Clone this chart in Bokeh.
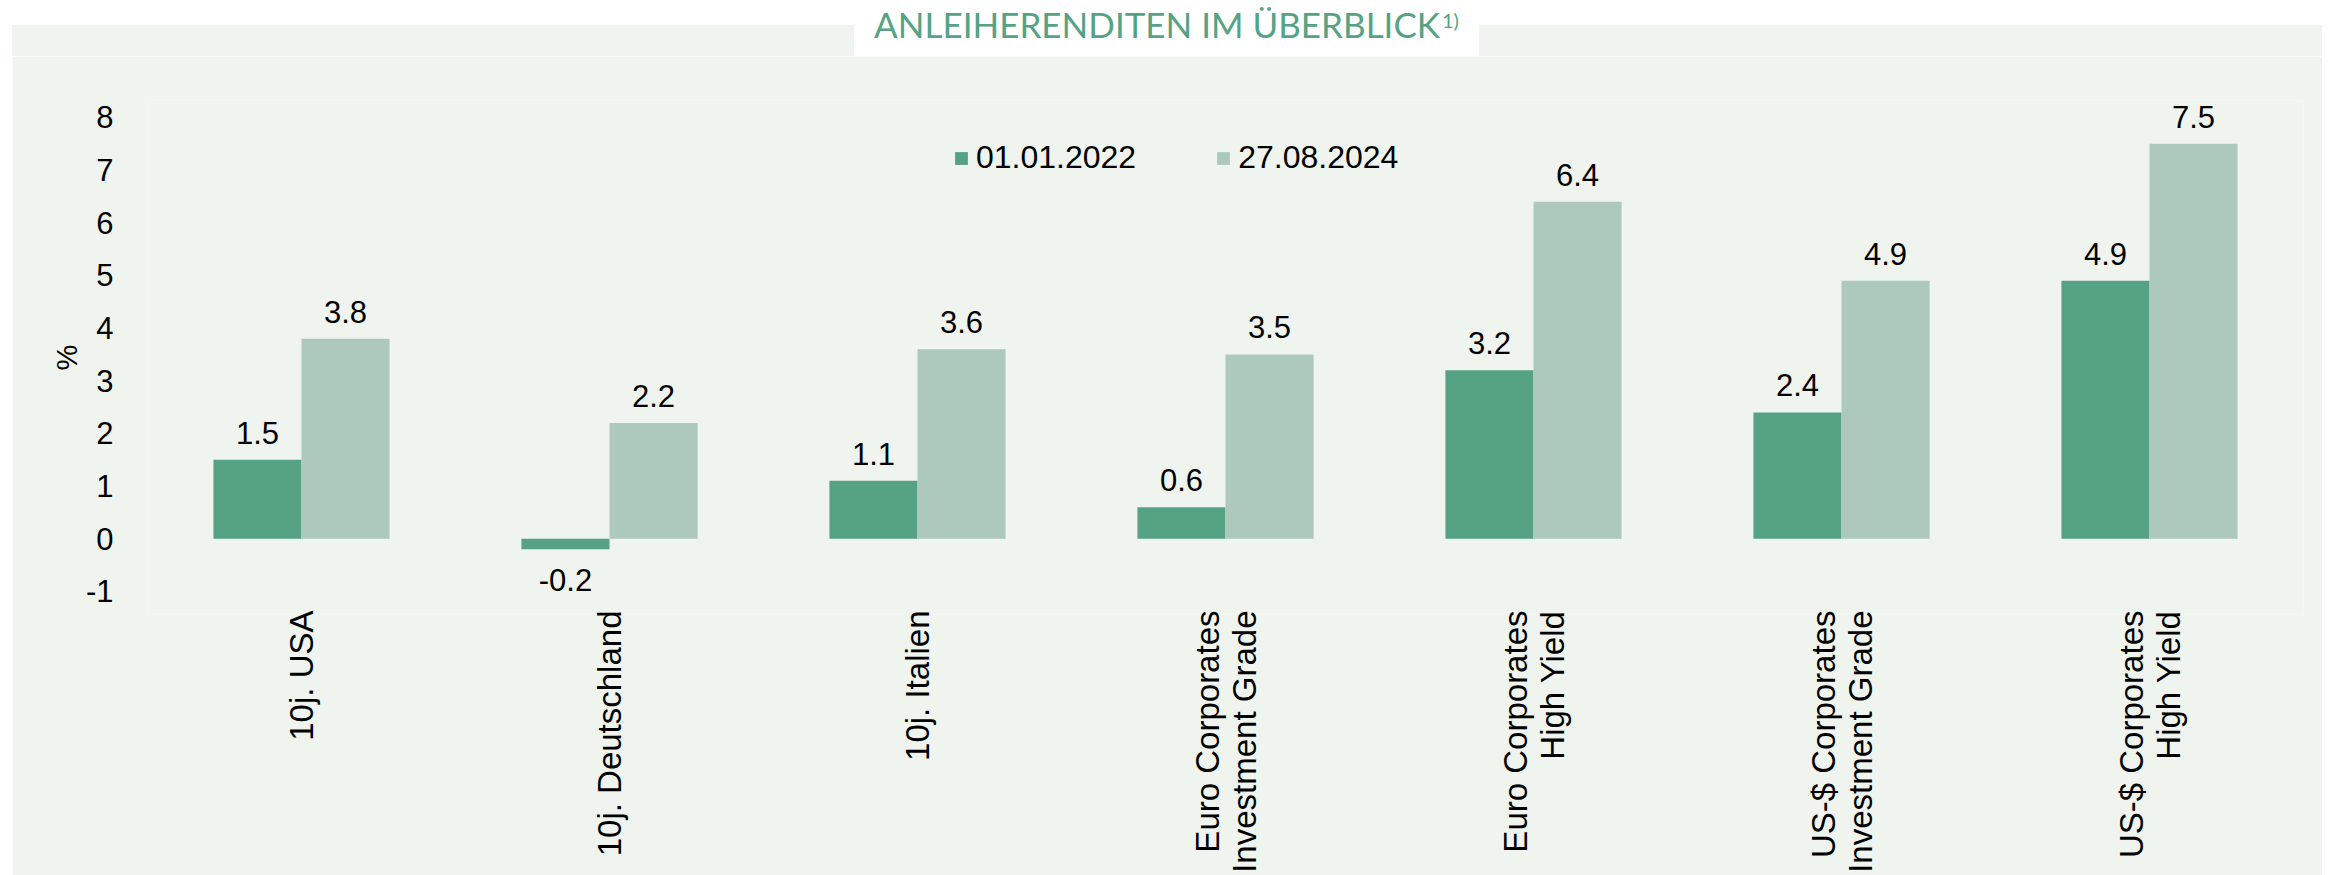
import math
from bokeh.plotting import figure
from bokeh.layouts import column
from bokeh.models import (FactorRange, Range1d, ColumnDataSource, Legend, LegendItem,
                          LabelSet, FixedTicker, Div)
from bokeh.transform import dodge
from bokeh.core.properties import value
from bokeh.embed import file_html
from bokeh.resources import INLINE

# ---- data ----
categories = ["10j. USA", "10j. Deutschland", "10j. Italien",
              "Euro Corporates\nInvestment Grade", "Euro Corporates\nHigh Yield",
              "US-$ Corporates\nInvestment Grade", "US-$ Corporates\nHigh Yield"]
series_names = ["01.01.2022", "27.08.2024"]
yield_2022 = [1.5, -0.2, 1.1, 0.6, 3.2, 2.4, 4.9]
yield_2024 = [3.8, 2.2, 3.6, 3.5, 6.4, 4.9, 7.5]
y_ticks = [-1, 0, 1, 2, 3, 4, 5, 6, 7, 8]
title_text = "ANLEIHERENDITEN IM ÜBERBLICK"
title_note = "1)"
y_label = "%"

# ---- style ----
DARK = "#55a383"
LIGHT = "#adc9bc"
PANEL = "#eff4ee"
FONT = "Liberation Sans"

# figure geometry (pixels)
W, H = 2310, 819
ML, MR, MT, MB = 135, 19, 44, 261
UNIT = 52.67            # px per y unit
ZERO_FROM_TOP = 438.3   # px from frame top to y=0
FH = H - MT - MB
y_top = ZERO_FROM_TOP / UNIT
y_bot = -(FH - ZERO_FROM_TOP) / UNIT

p = figure(width=W, height=H, x_range=FactorRange(*categories),
           y_range=Range1d(y_bot, y_top), title=None,
           output_backend="svg", toolbar_location=None,
           min_border_left=ML, min_border_right=MR, min_border_top=MT, min_border_bottom=MB,
           margin=(0, 0, 0, 12))
p.border_fill_color = PANEL
p.background_fill_color = PANEL
p.outline_line_color = None
p.grid.visible = False

src = ColumnDataSource(dict(cat=categories, a=yield_2022, b=yield_2024))
BW = 0.286
r1 = p.vbar(x=dodge("cat", -BW / 2, range=p.x_range), top="a", bottom=0, width=BW,
            source=src, fill_color=DARK, line_color=None)
r2 = p.vbar(x=dodge("cat", BW / 2, range=p.x_range), top="b", bottom=0, width=BW,
            source=src, fill_color=LIGHT, line_color=None)

# value labels
def lab_src(cats, vals, positive):
    c = [k for k, v in zip(cats, vals) if (v >= 0) == positive]
    v = [v for v in vals if (v >= 0) == positive]
    return ColumnDataSource(dict(cat=c, v=v, t=[f"{x:.1f}" for x in v]))

for vals, off in ((yield_2022, -BW / 2), (yield_2024, BW / 2)):
    for positive in (True, False):
        s = lab_src(categories, vals, positive)
        if not s.data["v"]:
            continue
        ls = LabelSet(x=dodge("cat", off, range=p.x_range), y="v", text="t", source=s,
                      text_align="center",
                      text_baseline="alphabetic" if positive else "top",
                      y_offset=16 if positive else -20,
                      text_font=value(FONT), text_font_size="31px", text_color="#000000")
        p.add_layout(ls)

# axes
p.yaxis.ticker = FixedTicker(ticks=y_ticks)
p.yaxis.major_label_overrides = {t: str(t) for t in y_ticks}
p.yaxis.axis_line_color = None
p.yaxis.major_tick_line_color = None
p.yaxis.minor_tick_line_color = None
p.yaxis.major_label_standoff = 28
p.yaxis.major_label_text_font = FONT
p.yaxis.major_label_text_font_size = "31px"
p.yaxis.major_label_text_color = "#000000"
p.yaxis.axis_label = y_label
p.yaxis.axis_label_text_font = FONT
p.yaxis.axis_label_text_font_size = "29px"
p.yaxis.axis_label_text_font_style = "normal"
p.yaxis.axis_label_text_color = "#000000"
p.yaxis.axis_label_standoff = 0

p.xaxis.axis_line_color = None
p.xaxis.major_tick_line_color = None
p.xaxis.minor_tick_line_color = None
p.xaxis.major_label_orientation = math.pi / 2
p.xaxis.major_label_standoff = -10
p.xaxis.major_label_text_font = FONT
p.xaxis.major_label_text_font_size = "33px"
p.xaxis.major_label_text_line_height = 1.0
p.xaxis.major_label_text_color = "#000000"

# legend (bottom edge 120 px below the top of the figure)
legend = Legend(items=[LegendItem(label=series_names[0], renderers=[r1]),
                       LegendItem(label=series_names[1], renderers=[r2])],
                orientation="horizontal", location=(806, FH - (120 - MT)),
                glyph_width=16, glyph_height=16, label_standoff=7, spacing=79,
                padding=0, margin=0, border_line_color=None, background_fill_alpha=0,
                label_text_font=FONT, label_text_font_size="32px", label_text_color="#000000")
p.add_layout(legend)

# title band above the chart panel
title_html = f"""
<div style="position:relative;width:2322px;height:56px;overflow:hidden;">
  <div style="position:absolute;left:12px;top:25px;width:2310px;height:31px;background:{PANEL};"></div>
  <div style="position:absolute;left:854px;top:0px;width:625px;height:56px;background:#ffffff;"></div>
  <div style="position:absolute;left:854px;top:3px;width:625px;text-align:center;white-space:nowrap;
              font-family:Lato;font-size:35px;line-height:42px;color:{DARK};">{title_text}<span
              style="font-size:20px;position:relative;top:-10px;margin-left:2px;">{title_note}</span></div>
</div>
"""
div = Div(text=title_html, width=2322, height=56, margin=0)

layout = column(div, p, spacing=0)
open("out.html", "w").write(file_html(layout, INLINE))
